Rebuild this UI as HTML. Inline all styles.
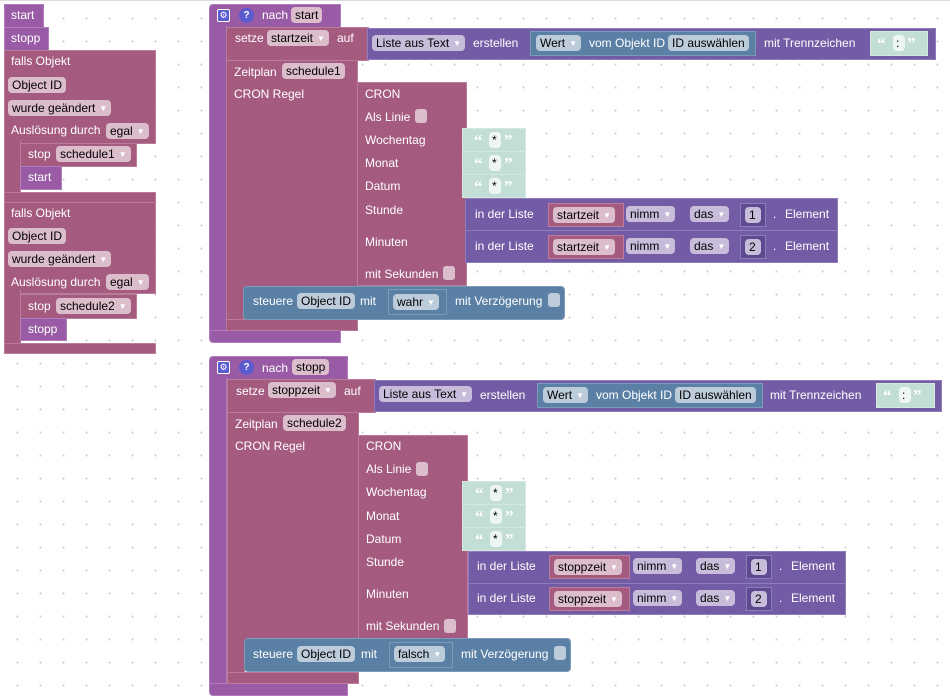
<!DOCTYPE html>
<html><head><meta charset="utf-8"><style>
body{margin:0;width:950px;height:696px;overflow:hidden;background:#fff;position:relative;font-family:"Liberation Sans",sans-serif;}
#bg{position:absolute;left:0;top:0;width:950px;height:696px;border-top:1px solid #ddd;box-sizing:border-box;
background-image:radial-gradient(circle,#ccc 0.8px,transparent 1.2px);background-size:23px 23px;background-position:6px 6px;}
.b{position:absolute;box-sizing:border-box;}
.pu{background:#995ba5;border:1px solid #b07cba;}
.pk{background:#a55b80;border:1px solid #b97c9a;}
.li{background:#745ba5;border:1px solid #8f7cba;}
.bl{background:#5b80a5;border:1px solid #7c99b7;}
.gr{background:#c3ded4;border:1px solid #d4e8e0;}
.t{position:absolute;color:#fff;font-size:12px;line-height:14px;white-space:nowrap;}
.p{position:absolute;color:#000;font-size:12px;height:16px;line-height:16px;padding:0 4px;border-radius:4px;white-space:nowrap;box-sizing:border-box;}
.pp{background:#dbbdcc;}
.pl{background:#c7bddb;}
.pb{background:#bdccdb;}
.pg{background:#eef6f3;}
.ar{color:#fff;font-size:8px;margin-left:4px;vertical-align:1px;}
.cb{position:absolute;width:12px;height:14px;border-radius:3px;}
.q{position:absolute;color:#fff;font-size:17px;font-weight:bold;line-height:16px;font-family:"Liberation Serif",serif;}
</style></head><body>
<div id="bg"></div>

<!-- LEFT column -->
<div class="b pu" style="left:4px;top:4px;width:40px;height:24px"></div><div class="t" style="left:11px;top:8px">start</div>
<div class="b pu" style="left:4px;top:27px;width:45px;height:24px"></div><div class="t" style="left:11px;top:31px">stopp</div>

<div class="b pk" style="left:4px;top:50px;width:152px;height:94px"></div>
<div class="b pk" style="left:4px;top:140px;width:17px;height:60px;border-top:none;border-bottom:none"></div>
<div class="b pk" style="left:4px;top:192px;width:152px;height:11px"></div>
<div class="t" style="left:11px;top:54px">falls Objekt</div>
<div class="p pp" style="left:8px;top:77px">Object ID</div>
<div class="p pp" style="left:8px;top:100px">wurde geändert<span class="ar">▼</span></div>
<div class="t" style="left:11px;top:123px">Auslösung durch</div>
<div class="p pp" style="left:106px;top:123px">egal<span class="ar">▼</span></div>
<div class="b pk" style="left:20px;top:143px;width:117px;height:24px"></div>
<div class="t" style="left:28px;top:147px">stop</div>
<div class="p pp" style="left:56px;top:146px">schedule1<span class="ar">▼</span></div>
<div class="b pu" style="left:20px;top:166px;width:42px;height:24px"></div><div class="t" style="left:28px;top:170px">start</div>

<div class="b pk" style="left:4px;top:202px;width:152px;height:92px"></div>
<div class="b pk" style="left:4px;top:290px;width:17px;height:58px;border-top:none;border-bottom:none"></div>
<div class="b pk" style="left:4px;top:343px;width:152px;height:11px"></div>
<div class="t" style="left:11px;top:206px">falls Objekt</div>
<div class="p pp" style="left:8px;top:228px">Object ID</div>
<div class="p pp" style="left:8px;top:251px">wurde geändert<span class="ar">▼</span></div>
<div class="t" style="left:11px;top:275px">Auslösung durch</div>
<div class="p pp" style="left:106px;top:274px">egal<span class="ar">▼</span></div>
<div class="b pk" style="left:20px;top:294px;width:117px;height:25px"></div>
<div class="t" style="left:28px;top:299px">stop</div>
<div class="p pp" style="left:56px;top:298px">schedule2<span class="ar">▼</span></div>
<div class="b pu" style="left:20px;top:318px;width:47px;height:23px"></div><div class="t" style="left:28px;top:322px">stopp</div>

<!-- GROUP 1 -->
<div class="b pu" style="left:209px;top:4px;width:132px;height:24px;border-radius:4px 0 0 0"></div>
<div class="b pu" style="left:209px;top:26px;width:18px;height:306px;border-top:none;border-bottom:none"></div>
<div class="b pu" style="left:209px;top:330px;width:132px;height:13px;border-radius:0 0 0 4px"></div>
<div class="b" style="left:217px;top:9px;width:13px;height:13px;background:#5b5bd0;border:1px solid #fff;border-radius:2px;color:#fff;font-size:9px;line-height:11px;text-align:center">⚙</div>
<div class="b" style="left:239px;top:8px;width:15px;height:15px;background:#5b5bd0;border-radius:50%;color:#fff;font-size:10px;line-height:15px;text-align:center;font-weight:bold">?</div>
<div class="t" style="left:262px;top:8px">nach</div>
<div class="p pp" style="left:291px;top:7px">start</div>

<div class="b pk" style="left:226px;top:27px;width:143px;height:34px"></div>
<div class="t" style="left:235px;top:31px">setze</div>
<div class="p pp" style="left:267px;top:30px">startzeit<span class="ar">▼</span></div>
<div class="t" style="left:337px;top:31px">auf</div>
<div class="b li" style="left:367px;top:28px;width:569px;height:32px"></div>
<div class="p pl" style="left:372px;top:35px">Liste aus Text<span class="ar">▼</span></div>
<div class="t" style="left:473px;top:36px">erstellen</div>
<div class="b bl" style="left:530px;top:31px;width:226px;height:25px"></div>
<div class="p pb" style="left:536px;top:35px">Wert<span class="ar">▼</span></div>
<div class="t" style="left:589px;top:36px">vom Objekt ID</div>
<div class="p pb" style="left:668px;top:35px">ID auswählen</div>
<div class="t" style="left:764px;top:36px">mit Trennzeichen</div>
<div class="b gr" style="left:870px;top:31px;width:58px;height:25px"></div>
<div class="q" style="left:877px;top:36px">“</div><div class="p pg" style="left:893px;top:35px;width:12px;padding:0 3px">:</div><div class="q" style="left:907px;top:36px">”</div>

<div class="b pk" style="left:226px;top:60px;width:132px;height:236px"></div>
<div class="b pk" style="left:226px;top:290px;width:18px;height:32px;border-top:none;border-bottom:none"></div>
<div class="b pk" style="left:226px;top:319px;width:132px;height:12px"></div>
<div class="t" style="left:234px;top:65px">Zeitplan</div>
<div class="p pp" style="left:282px;top:63px">schedule1</div>
<div class="t" style="left:234px;top:87px">CRON Regel</div>

<div class="b pk" style="left:357px;top:82px;width:110px;height:204px"></div>
<div class="t" style="left:365px;top:87px">CRON</div>
<div class="t" style="left:365px;top:110px">Als Linie</div><div class="cb pp" style="left:415px;top:109px"></div>
<div class="t" style="left:365px;top:133px">Wochentag</div>
<div class="t" style="left:365px;top:156px">Monat</div>
<div class="t" style="left:365px;top:179px">Datum</div>
<div class="t" style="left:365px;top:203px">Stunde</div>
<div class="t" style="left:365px;top:235px">Minuten</div>
<div class="t" style="left:365px;top:267px">mit Sekunden</div><div class="cb pp" style="left:443px;top:266px"></div>

<div class="b gr" style="left:462px;top:128px;width:64px;height:24px"></div>
<div class="b gr" style="left:462px;top:151px;width:64px;height:24px"></div>
<div class="b gr" style="left:462px;top:174px;width:64px;height:24px"></div>
<div class="q" style="left:474px;top:133px">“</div><div class="p pg" style="left:489px;top:132px;width:12px;padding:0 3px">*</div><div class="q" style="left:504px;top:133px">”</div>
<div class="q" style="left:474px;top:156px">“</div><div class="p pg" style="left:489px;top:155px;width:12px;padding:0 3px">*</div><div class="q" style="left:504px;top:156px">”</div>
<div class="q" style="left:474px;top:179px">“</div><div class="p pg" style="left:489px;top:178px;width:12px;padding:0 3px">*</div><div class="q" style="left:504px;top:179px">”</div>

<div class="b li" style="left:465px;top:198px;width:373px;height:33px"></div>
<div class="b li" style="left:465px;top:230px;width:373px;height:33px"></div>
<div class="t" style="left:475px;top:207px">in der Liste</div>
<div class="b pk" style="left:548px;top:203px;width:76px;height:24px"></div>
<div class="p pp" style="left:553px;top:207px">startzeit<span class="ar">▼</span></div>
<div class="p pl" style="left:626px;top:206px">nimm<span class="ar">▼</span></div>
<div class="p pl" style="left:690px;top:206px">das<span class="ar">▼</span></div>
<div class="b li" style="left:740px;top:203px;width:26px;height:24px;background:#5e4a8f"></div>
<div class="p pl" style="left:745px;top:207px;width:16px">1</div>
<div class="t" style="left:773px;top:207px">.</div><div class="t" style="left:785px;top:207px">Element</div>
<div class="t" style="left:475px;top:239px">in der Liste</div>
<div class="b pk" style="left:548px;top:235px;width:76px;height:24px"></div>
<div class="p pp" style="left:553px;top:239px">startzeit<span class="ar">▼</span></div>
<div class="p pl" style="left:626px;top:238px">nimm<span class="ar">▼</span></div>
<div class="p pl" style="left:690px;top:238px">das<span class="ar">▼</span></div>
<div class="b li" style="left:740px;top:235px;width:26px;height:24px;background:#5e4a8f"></div>
<div class="p pl" style="left:745px;top:239px;width:16px">2</div>
<div class="t" style="left:773px;top:239px">.</div><div class="t" style="left:785px;top:239px">Element</div>

<div class="b bl" style="left:243px;top:286px;width:322px;height:34px;border-radius:4px"></div>
<div class="t" style="left:253px;top:294px">steuere</div>
<div class="p pb" style="left:297px;top:293px">Object ID</div>
<div class="t" style="left:360px;top:294px">mit</div>
<div class="b bl" style="left:388px;top:289px;width:59px;height:26px"></div>
<div class="p pb" style="left:393px;top:294px">wahr<span class="ar">▼</span></div>
<div class="t" style="left:455px;top:294px">mit Verzögerung</div>
<div class="cb pb" style="left:548px;top:293px"></div>

<!-- GROUP 2 -->
<div class="b pu" style="left:209px;top:356px;width:139px;height:24px;border-radius:4px 0 0 0"></div>
<div class="b pu" style="left:209px;top:378px;width:18px;height:306px;border-top:none;border-bottom:none"></div>
<div class="b pu" style="left:209px;top:683px;width:139px;height:13px;border-radius:0 0 0 4px"></div>
<div class="b" style="left:217px;top:361px;width:13px;height:13px;background:#5b5bd0;border:1px solid #fff;border-radius:2px;color:#fff;font-size:9px;line-height:11px;text-align:center">⚙</div>
<div class="b" style="left:239px;top:360px;width:15px;height:15px;background:#5b5bd0;border-radius:50%;color:#fff;font-size:10px;line-height:15px;text-align:center;font-weight:bold">?</div>
<div class="t" style="left:262px;top:361px">nach</div>
<div class="p pp" style="left:292px;top:359px">stopp</div>

<div class="b pk" style="left:227px;top:379px;width:149px;height:34px"></div>
<div class="t" style="left:236px;top:384px">setze</div>
<div class="p pp" style="left:268px;top:382px">stoppzeit<span class="ar">▼</span></div>
<div class="t" style="left:344px;top:384px">auf</div>
<div class="b li" style="left:374px;top:380px;width:568px;height:32px"></div>
<div class="p pl" style="left:379px;top:386px">Liste aus Text<span class="ar">▼</span></div>
<div class="t" style="left:480px;top:388px">erstellen</div>
<div class="b bl" style="left:537px;top:383px;width:226px;height:25px"></div>
<div class="p pb" style="left:543px;top:387px">Wert<span class="ar">▼</span></div>
<div class="t" style="left:596px;top:388px">vom Objekt ID</div>
<div class="p pb" style="left:675px;top:387px">ID auswählen</div>
<div class="t" style="left:770px;top:388px">mit Trennzeichen</div>
<div class="b gr" style="left:876px;top:383px;width:59px;height:25px"></div>
<div class="q" style="left:883px;top:388px">“</div><div class="p pg" style="left:899px;top:387px;width:12px;padding:0 3px">:</div><div class="q" style="left:913px;top:388px">”</div>

<div class="b pk" style="left:227px;top:412px;width:132px;height:236px"></div>
<div class="b pk" style="left:227px;top:642px;width:18px;height:33px;border-top:none;border-bottom:none"></div>
<div class="b pk" style="left:227px;top:672px;width:132px;height:12px"></div>
<div class="t" style="left:235px;top:417px">Zeitplan</div>
<div class="p pp" style="left:283px;top:415px">schedule2</div>
<div class="t" style="left:235px;top:439px">CRON Regel</div>

<div class="b pk" style="left:358px;top:435px;width:110px;height:204px"></div>
<div class="t" style="left:366px;top:439px">CRON</div>
<div class="t" style="left:366px;top:462px">Als Linie</div><div class="cb pp" style="left:416px;top:462px"></div>
<div class="t" style="left:366px;top:485px">Wochentag</div>
<div class="t" style="left:366px;top:509px">Monat</div>
<div class="t" style="left:366px;top:532px">Datum</div>
<div class="t" style="left:366px;top:555px">Stunde</div>
<div class="t" style="left:366px;top:587px">Minuten</div>
<div class="t" style="left:366px;top:619px">mit Sekunden</div><div class="cb pp" style="left:444px;top:619px"></div>

<div class="b gr" style="left:462px;top:481px;width:64px;height:24px"></div>
<div class="b gr" style="left:462px;top:504px;width:64px;height:24px"></div>
<div class="b gr" style="left:462px;top:527px;width:64px;height:24px"></div>
<div class="q" style="left:475px;top:486px">“</div><div class="p pg" style="left:490px;top:485px;width:12px;padding:0 3px">*</div><div class="q" style="left:505px;top:486px">”</div>
<div class="q" style="left:475px;top:509px">“</div><div class="p pg" style="left:490px;top:508px;width:12px;padding:0 3px">*</div><div class="q" style="left:505px;top:509px">”</div>
<div class="q" style="left:475px;top:532px">“</div><div class="p pg" style="left:490px;top:531px;width:12px;padding:0 3px">*</div><div class="q" style="left:505px;top:532px">”</div>

<div class="b li" style="left:468px;top:551px;width:378px;height:33px"></div>
<div class="b li" style="left:468px;top:583px;width:378px;height:32px"></div>
<div class="t" style="left:477px;top:559px">in der Liste</div>
<div class="b pk" style="left:549px;top:555px;width:81px;height:24px"></div>
<div class="p pp" style="left:554px;top:559px">stoppzeit<span class="ar">▼</span></div>
<div class="p pl" style="left:633px;top:558px">nimm<span class="ar">▼</span></div>
<div class="p pl" style="left:696px;top:558px">das<span class="ar">▼</span></div>
<div class="b li" style="left:746px;top:555px;width:26px;height:24px;background:#5e4a8f"></div>
<div class="p pl" style="left:751px;top:559px;width:16px">1</div>
<div class="t" style="left:779px;top:559px">.</div><div class="t" style="left:791px;top:559px">Element</div>
<div class="t" style="left:477px;top:591px">in der Liste</div>
<div class="b pk" style="left:549px;top:587px;width:81px;height:24px"></div>
<div class="p pp" style="left:554px;top:591px">stoppzeit<span class="ar">▼</span></div>
<div class="p pl" style="left:633px;top:590px">nimm<span class="ar">▼</span></div>
<div class="p pl" style="left:696px;top:590px">das<span class="ar">▼</span></div>
<div class="b li" style="left:746px;top:587px;width:26px;height:24px;background:#5e4a8f"></div>
<div class="p pl" style="left:751px;top:591px;width:16px">2</div>
<div class="t" style="left:779px;top:591px">.</div><div class="t" style="left:791px;top:591px">Element</div>

<div class="b bl" style="left:244px;top:638px;width:327px;height:34px;border-radius:4px"></div>
<div class="t" style="left:253px;top:647px">steuere</div>
<div class="p pb" style="left:297px;top:646px">Object ID</div>
<div class="t" style="left:361px;top:647px">mit</div>
<div class="b bl" style="left:389px;top:642px;width:64px;height:26px"></div>
<div class="p pb" style="left:394px;top:646px">falsch<span class="ar">▼</span></div>
<div class="t" style="left:461px;top:647px">mit Verzögerung</div>
<div class="cb pb" style="left:554px;top:646px"></div>
</body></html>
